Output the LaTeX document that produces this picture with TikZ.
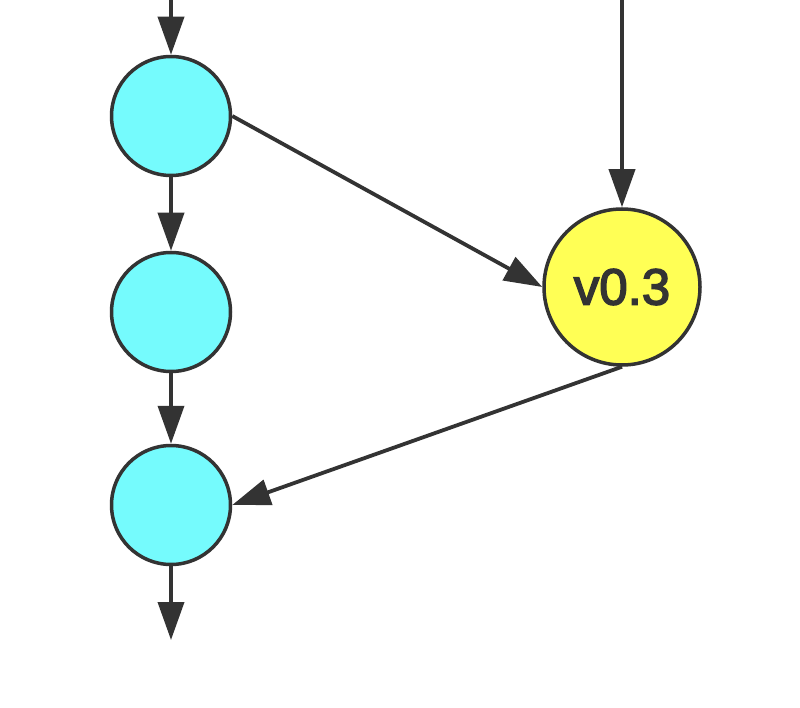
\documentclass[tikz,border=0pt]{standalone}
\usepackage{fontspec}
\setmainfont{Liberation Sans}
\newfontfamily\taglabelfont[FakeBold=3]{Liberation Sans}
\usetikzlibrary{arrows.meta}
\definecolor{cyanfill}{HTML}{75FBFD}
\definecolor{yellowfill}{HTML}{FFFF55}
\definecolor{ink}{HTML}{333333}
\begin{document}
\begin{tikzpicture}[x=1pt,y=-1pt,
  commit/.style={circle,draw=ink,line width=3.5pt,fill=cyanfill,minimum size=119pt,inner sep=0pt},
  tag/.style={circle,draw=ink,line width=3.5pt,fill=yellowfill,minimum size=156pt,inner sep=0pt,font=\taglabelfont\fontsize{51}{55}\selectfont,text=ink},
  link/.style={draw=ink,line width=3.8pt,-{Triangle[length=38pt,width=26pt]}}]
\useasboundingbox (0,0) rectangle (800,708);
\node[commit] (c1) at (171,116) {};
\node[commit] (c2) at (171,312) {};
\node[commit] (c3) at (171,505) {};
\node[tag] (v) at (622,287) {v0.3};
\coordinate (topL) at (171,0);
\coordinate (topR) at (622,0);
\coordinate (bot) at (171,640);
\draw[link] (topL) -- (c1.north);
\draw[link] (c1.south) -- (c2.north);
\draw[link] (c2.south) -- (c3.north);
\draw[link] (c3.south) -- (bot);
\draw[link] (topR) -- (v.north);
\draw[link] (c1.east) -- (v.west);
\draw[link] (v.south) -- (c3.east);
\end{tikzpicture}
\end{document}
